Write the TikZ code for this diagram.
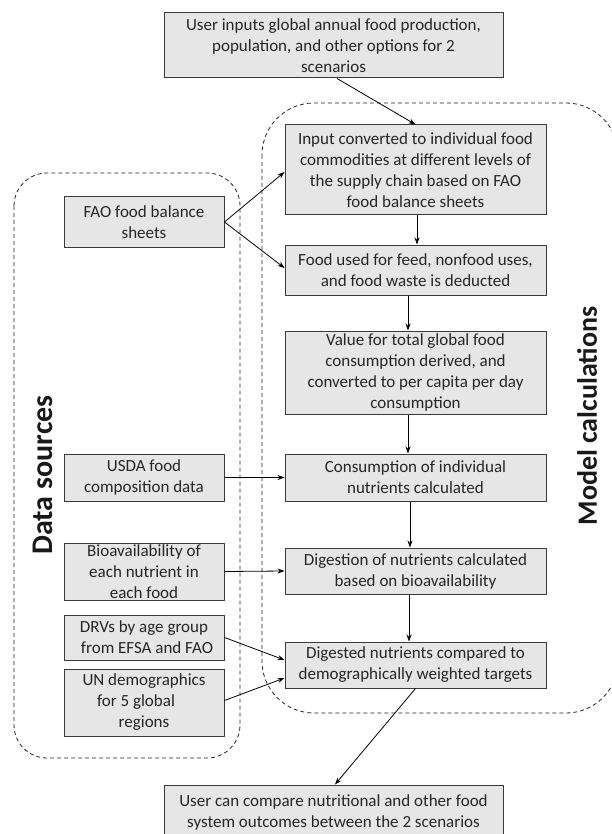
\documentclass[tikz,border=0pt]{standalone}
\usepackage{fontspec}
\setmainfont{Carlito}
\usetikzlibrary{arrows.meta}
\definecolor{boxfill}{HTML}{E6E6E6}
\definecolor{boxline}{HTML}{3A3A3A}
\definecolor{txt}{HTML}{262626}
\begin{document}
\begin{tikzpicture}[x=1pt,y=-1pt,
  box/.style={draw=boxline, line width=1pt, fill=boxfill, align=center, inner sep=0pt,
    text=txt, font=\fontsize{17}{21}\selectfont},
  arr/.style={draw=black, line width=0.8pt, -{Stealth[length=7pt,width=5pt]}},
  region/.style={draw=black!85, line width=0.8pt, dash pattern=on 4pt off 3pt},
  lbl/.style={font=\bfseries\fontsize{28}{32}\selectfont, text=black!90, rotate=90, inner sep=0pt}]
\useasboundingbox (0,0) rectangle (612,834);
% dashed regions
\draw[region, rounded corners=33pt] (14,173) rectangle (240,758);
\draw[region, rounded corners=52pt] (262,103) rectangle (618,713);
% model boxes
\node[box, minimum width=339pt, minimum height=65pt] (top) at (333.5,45.5)
  {User inputs global annual food production,\\ population, and other options for 2\\ scenarios};
\node[box, minimum width=261pt, minimum height=90pt] (b1) at (415.5,170)
  {Input converted to individual food\\ commodities at different levels of\\ the supply chain based on FAO\\ food balance sheets};
\node[box, minimum width=261pt, minimum height=50pt] (b2) at (415.5,270)
  {Food used for feed, nonfood uses,\\ and food waste is deducted};
\node[box, minimum width=261pt, minimum height=83pt] (b3) at (415.5,372.5)
  {Value for total global food\\ consumption derived, and\\ converted to per capita per day\\ consumption};
\node[box, minimum width=261pt, minimum height=47pt] (b4) at (415.5,477.5)
  {Consumption of individual\\ nutrients calculated};
\node[box, minimum width=261pt, minimum height=46pt] (b5) at (415.5,571)
  {Digestion of nutrients calculated\\ based on bioavailability};
\node[box, minimum width=261pt, minimum height=46pt] (b6) at (415.5,665)
  {Digested nutrients compared to\\ demographically weighted targets};
\node[box, minimum width=339pt, minimum height=55pt] (fin) at (333.5,812.5)
  {User can compare nutritional and other food\\ system outcomes between the 2 scenarios};
% data source boxes
\node[box, minimum width=160pt, minimum height=50pt] (fao) at (144,222)
  {FAO food balance\\ sheets};
\node[box, minimum width=160pt, minimum height=47pt] (usda) at (144,477.5)
  {USDA food\\ composition data};
\node[box, minimum width=160pt, minimum height=57pt] (bio) at (144,571.5)
  {Bioavailability of\\ each nutrient in\\ each food};
\node[box, minimum width=160pt, minimum height=45pt] (drv) at (144,637.5)
  {DRVs by age group\\ \hspace*{6pt}from EFSA and FAO};
\node[box, minimum width=160pt, minimum height=67pt] (un) at (144,702.5)
  {UN demographics\\ for 5 global\rule{16pt}{0pt}\\ regions};
% labels
\node[lbl, font=\bfseries\fontsize{30}{34}\selectfont] (ds) at (43,475) {Data sources};
\node[lbl] (mc) at (587,416) {Model calculations};
% connectors
\draw[arr] ([xshift=3.5pt]top.south) -- (b1.north);
\draw[arr] ([xshift=1.5pt]b1.south) -- ([xshift=1.5pt]b2.north);
\draw[arr] ([xshift=-7.5pt]b2.south) -- ([xshift=-7.5pt]b3.north);
\draw[arr] ([xshift=-7.5pt]b3.south) -- ([xshift=-7.5pt]b4.north);
\draw[arr] ([xshift=-5.5pt]b4.south) -- ([xshift=-5.5pt]b5.north);
\draw[arr] ([xshift=-6.5pt]b5.south) -- ([xshift=-6.5pt]b6.north);
\draw[arr] (fao.east) -- ([yshift=-2pt]b1.west);
\draw[arr] (fao.east) -- ([yshift=2pt]b2.west);
\draw[arr] (usda.east) -- (b4.west);
\draw[arr] (bio.east) -- (b5.west);
\draw[arr] (drv.east) -- ([yshift=5pt]b6.west);
\draw[arr] ([yshift=2pt]un.east) -- ([yshift=-13pt]b6.west);
\draw[arr] (b6.south) -- ([xshift=1.5pt]fin.north);
\end{tikzpicture}
\end{document}
